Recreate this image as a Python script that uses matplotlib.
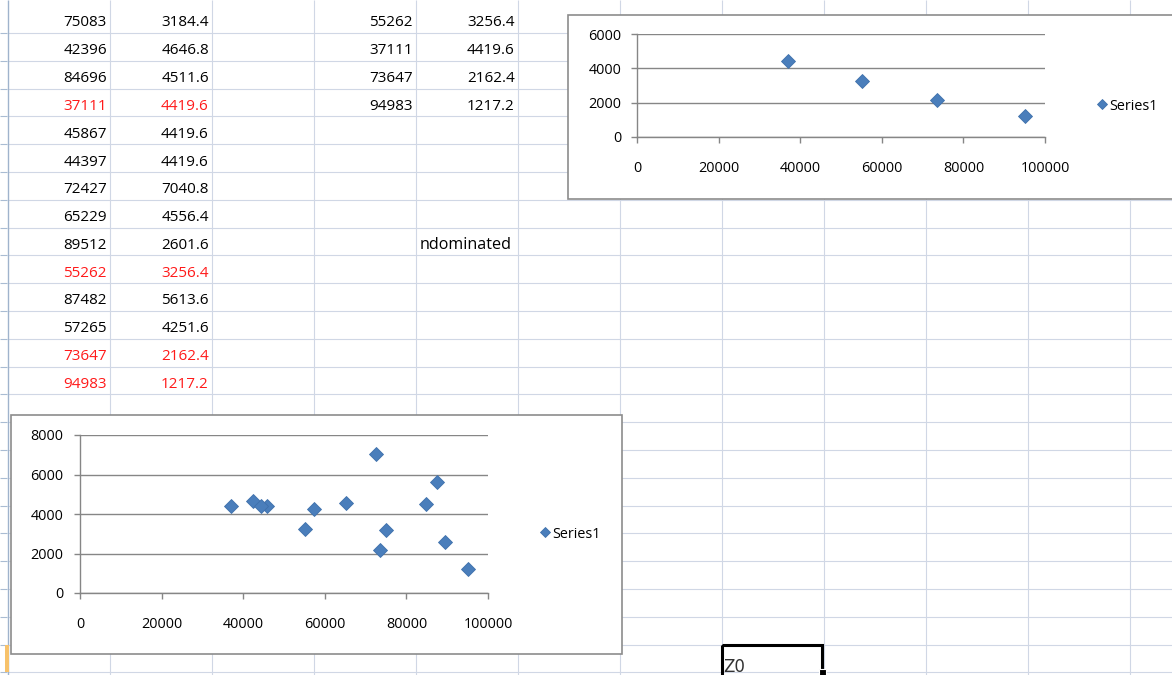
import matplotlib.pyplot as plt
from matplotlib.patches import Rectangle
from matplotlib.ticker import FuncFormatter

plt.rcParams['font.family'] = ['Open Sans', 'DejaVu Sans']

# sheet data: column A/B are the candidate solutions, D/E the undominated ones
cost = [75083, 42396, 84696, 37111, 45867, 44397, 72427,
        65229, 89512, 55262, 87482, 57265, 73647, 94983]
time_ = [3184.4, 4646.8, 4511.6, 4419.6, 4419.6, 4419.6, 7040.8,
         4556.4, 2601.6, 3256.4, 5613.6, 4251.6, 2162.4, 1217.2]
undominated = [False, False, False, True, False, False, False,
               False, False, True, False, False, True, True]

front_cost = [55262, 37111, 73647, 94983]
front_time = [3256.4, 4419.6, 2162.4, 1217.2]

W, H = 1172, 675
ROW0, ROWH = 33.0, 27.8
COL0, COLW = 8.4, 101.95
GRID = '#d0d7e5'
AXIS = '#868686'
BLUE = '#4a7ebb'
INK = '#000000'
FS = 11.0
TFS = 10.4

fig = plt.figure(figsize=(W / 100, H / 100), dpi=100)
bg = fig.add_axes([0, 0, 1, 1])
bg.set_xlim(0, W)
bg.set_ylim(H, 0)
bg.axis('off')


def frac(x0, y0, x1, y1):
    return [x0 / W, 1 - y1 / H, (x1 - x0) / W, (y1 - y0) / H]


def col_right(c):
    return COL0 + COLW * (c + 1)


def row_bottom(r):
    return ROW0 + ROWH * r


# cell grid
rows = [row_bottom(k) for k in range(24)]
cols = [COL0 + COLW * k for k in range(1, 12)]
bg.hlines(rows, 7.5, W, color=GRID, lw=0.8, zorder=1)
bg.vlines(cols, 0, H, color=GRID, lw=0.8, zorder=1)
bg.hlines(rows, 0, 7, color='#a9bcd3', lw=0.8, zorder=1)
bg.vlines([7.5], 0, H, color='#9fb3cc', lw=1.0, zorder=1)
bg.add_patch(Rectangle((5, row_bottom(22)), 4, ROWH, color='#f7c26b', lw=0, zorder=2))

# cell values
for r, (a, b, u) in enumerate(zip(cost, time_, undominated)):
    c = '#ff1a1a' if u else INK
    y = row_bottom(r) - 6.5
    bg.text(col_right(0) - 3.5, y, f'{a}', ha='right', va='baseline', fontsize=FS, color=c)
    bg.text(col_right(1) - 3.5, y, f'{b:g}', ha='right', va='baseline', fontsize=FS, color=c)

for r, (a, b) in enumerate(zip(front_cost, front_time)):
    y = row_bottom(r) - 6.5
    bg.text(col_right(3) - 3.5, y, f'{a}', ha='right', va='baseline', fontsize=FS, color=INK)
    bg.text(col_right(4) - 3.5, y, f'{b:g}', ha='right', va='baseline', fontsize=FS, color=INK)

bg.text(col_right(3) + 3, row_bottom(8) - 6.5, 'ndominated', ha='left',
        va='baseline', fontsize=11.6, color=INK)

# active cell
bg.add_patch(Rectangle((721.5, 645), 100.5, 40, fill=False, ec='black', lw=2.2, zorder=3))
bg.add_patch(Rectangle((819, 668.5), 7, 8, fc='black', ec='white', lw=0.8, zorder=4))
bg.text(723.5, 672, 'Z0', ha='left', va='baseline', fontsize=12,
        family=['Liberation Sans Narrow', 'DejaVu Sans'], color='#333333')

# chart frames
bg.add_patch(Rectangle((568, 15), 700, 184, fc='white', ec='#8c8c8c', lw=1.2, zorder=5))
bg.add_patch(Rectangle((11, 415), 611, 239, fc='white', ec='#8c8c8c', lw=1.2, zorder=5))


def scatter_chart(box, xs, ys, ymax, legend_xy, ylab_pad):
    ax = fig.add_axes(frac(*box))
    ax.set_zorder(3)
    ax.patch.set_alpha(0)
    ax.plot(xs, ys, ls='none', marker='D', ms=6.8, color=BLUE, mec='#3f70ab',
            mew=0.6, clip_on=False, label='Series1')
    ax.set_xlim(0, 100000)
    ax.set_ylim(0, ymax)
    ax.set_xticks(range(0, 100001, 20000))
    ax.set_yticks(range(0, ymax + 1, 2000))
    ax.xaxis.set_major_formatter(FuncFormatter(lambda v, p: f'{v:.0f}'))
    ax.yaxis.set_major_formatter(FuncFormatter(lambda v, p: f'{v:.0f}'))
    ax.grid(axis='y', color=AXIS, lw=1.0)
    ax.set_axisbelow(True)
    for s in ('top', 'right'):
        ax.spines[s].set_visible(False)
    for s in ('left', 'bottom'):
        ax.spines[s].set_color(AXIS)
        ax.spines[s].set_linewidth(1.0)
    ax.tick_params(axis='both', direction='out', length=4.6, width=1.0,
                   color=AXIS, labelsize=TFS, labelcolor=INK)
    ax.tick_params(axis='x', pad=12.5)
    ax.tick_params(axis='y', pad=ylab_pad)
    ax.legend(loc='center left', bbox_to_anchor=legend_xy, bbox_transform=bg.transData,
              frameon=False, fontsize=TFS, handlelength=0.8, handletextpad=0.15,
              borderpad=0, borderaxespad=0, markerscale=0.8)
    return ax


scatter_chart((637, 34, 1045, 137), front_cost, front_time, 6000, (1096, 106), 6.5)
scatter_chart((80, 435, 488, 593), cost, time_, 8000, (539, 534), 7.2)

fig.savefig('out.png', dpi=100)
